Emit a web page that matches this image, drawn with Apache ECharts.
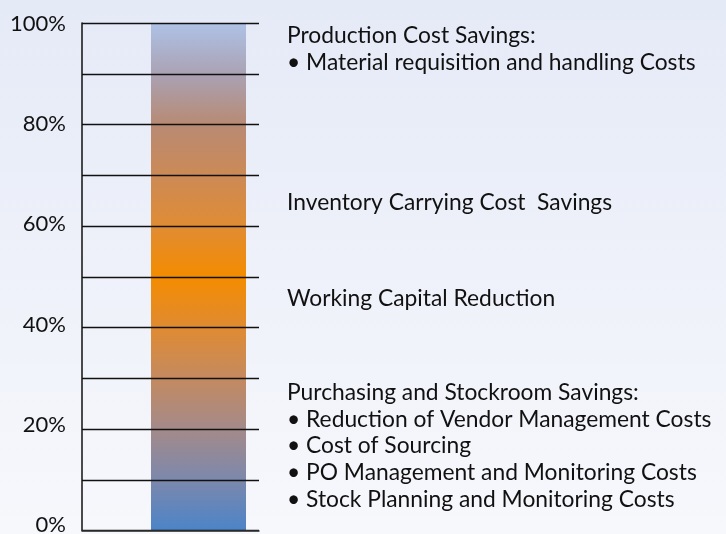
<!DOCTYPE html>
<html>
<head>
<meta charset="utf-8">
<script src="https://cdn.jsdelivr.net/npm/echarts@6/dist/echarts.min.js"></script>
<style>
html,body{margin:0;padding:0;}
#c{width:726px;height:534px;}
</style>
</head>
<body>
<div id="c"></div>
<script>
// ---- data ----
const categories = ['Cost Savings'];
const barValues = [100];
const yMin = 0, yMax = 100, yStep = 10, labelStep = 20;
const topBlock = ['Production Cost Savings:', '\u2022 Material requisition and handling Costs'];
const inventoryText = ['Inventory Carrying Cost  Savings'];
const workingText = ['Working Capital Reduction'];
const bottomBlock = [
  'Purchasing and Stockroom Savings:',
  '\u2022 Reduction of Vendor Management Costs',
  '\u2022 Cost of Sourcing',
  '\u2022 PO Management and Monitoring Costs',
  '\u2022 Stock Planning and Monitoring Costs'
];

const FONT = 'Lato, "Noto Sans", sans-serif';
const FS = 22.8;
const LH = 26.8;

const chart = echarts.init(document.getElementById('c'), null, {renderer: 'canvas'});

function block(lines, x, y0) {
  return lines.map((t, i) => ({
    type: 'text', left: x, top: y0 + i * LH,
    style: {text: t, fill: '#111', font: FS + 'px ' + FONT, textVerticalAlign: 'top'}
  }));
}

const gridTop = 23, gridBottom = 3.5;

chart.setOption({
  backgroundColor: new echarts.graphic.LinearGradient(0, 0, 0, 1, [
    {offset: 0, color: '#e5eaf7'},
    {offset: 1, color: '#f7f8fc'}
  ]),
  animation: false,
  grid: [
    {left: 82, width: 177, top: gridTop, bottom: gridBottom, outerBoundsMode: 'none', containLabel: false},
    {left: 151, width: 95, top: gridTop, bottom: gridBottom, outerBoundsMode: 'none', containLabel: false},
    {left: 82, width: 177, top: 24, bottom: 9, outerBoundsMode: 'none', containLabel: false}
  ],
  xAxis: [
    {gridIndex: 0, type: 'category', data: categories, axisLabel: {show: false}, axisTick: {show: false},
     axisLine: {show: true, lineStyle: {color: '#333', width: 1.5}}, z: 5},
    {gridIndex: 1, type: 'category', data: categories, show: false},
    {gridIndex: 2, type: 'category', data: categories, show: false}
  ],
  yAxis: [
    {gridIndex: 0, type: 'value', min: yMin, max: yMax, interval: yStep, z: 5,
     axisLine: {show: true, lineStyle: {color: '#111', width: 1.5}},
     axisTick: {show: false},
     splitLine: {show: true, lineStyle: {color: '#111', width: 1.3}},
     axisLabel: {show: false}},
    {gridIndex: 1, type: 'value', min: yMin, max: yMax, show: false},
    {gridIndex: 2, type: 'value', min: yMin, max: yMax, interval: labelStep,
     axisLine: {show: false}, axisTick: {show: false}, splitLine: {show: false},
     axisLabel: {margin: 16, color: '#111', fontFamily: FONT, fontSize: 22, hideOverlap: false,
       formatter: v => v + '%'}}
  ],
  series: [{
    type: 'bar', xAxisIndex: 1, yAxisIndex: 1, data: barValues, barWidth: '100%',
    itemStyle: {color: new echarts.graphic.LinearGradient(0, 1, 0, 0, [
      {offset: 0, color: '#4c84c8'},
      {offset: 0.1, color: '#7c88ac'},
      {offset: 0.2, color: '#a48a8a'},
      {offset: 0.3, color: '#c48a60'},
      {offset: 0.4, color: '#e08b32'},
      {offset: 0.5, color: '#f48c00'},
      {offset: 0.6, color: '#e08c34'},
      {offset: 0.7, color: '#cc8a56'},
      {offset: 0.8, color: '#b88a74'},
      {offset: 0.9, color: '#aaa2b4'},
      {offset: 1, color: '#aec2e6'}
    ])}
  }],
  graphic: [].concat(
    block(topBlock, 287, 24),
    block(inventoryText, 287, 191),
    block(workingText, 287, 287),
    block(bottomBlock, 287, 381)
  )
});
</script>
</body>
</html>
